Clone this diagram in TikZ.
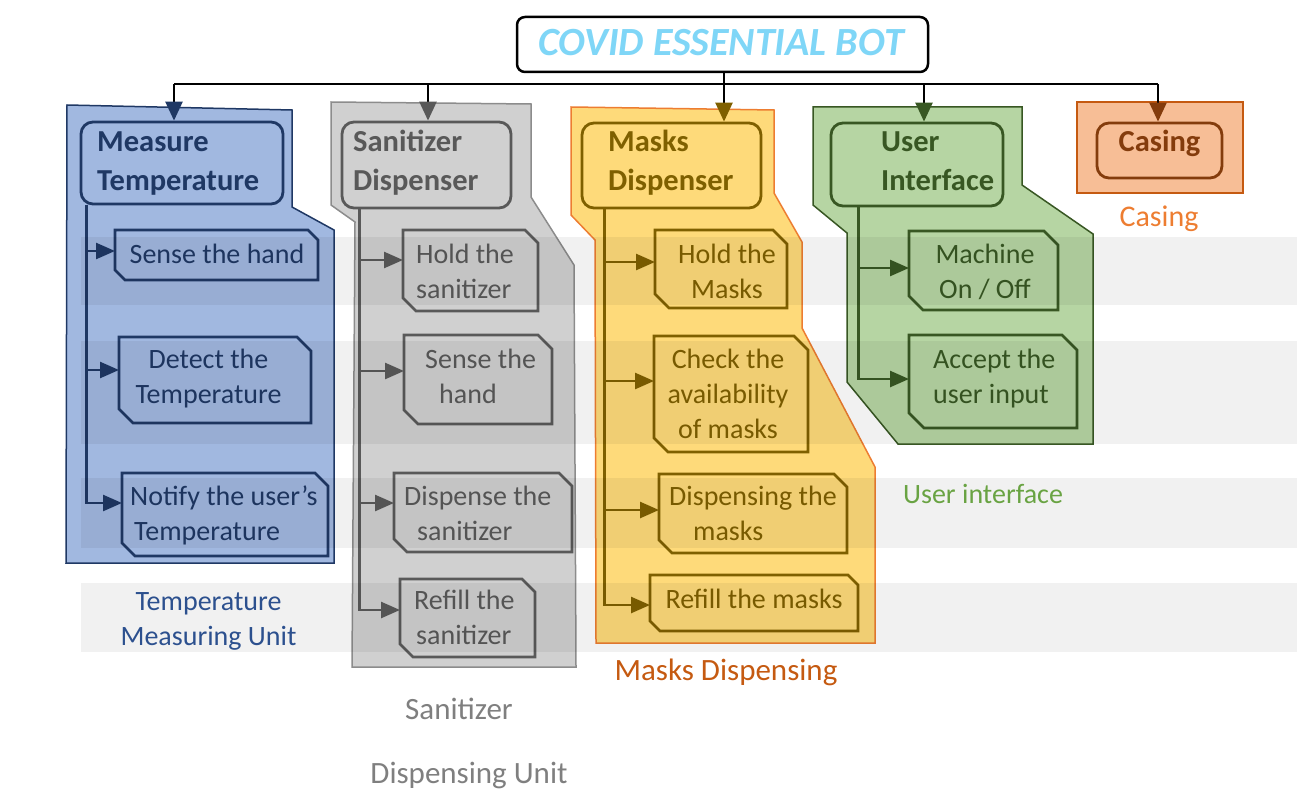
\documentclass[tikz,border=0pt]{standalone}
\usepackage{fontspec}
\setmainfont{Carlito}
\usetikzlibrary{arrows.meta,fit}

% palette
\definecolor{titleC}{RGB}{127,214,247}
\definecolor{blueF}{RGB}{161,184,224}
\definecolor{blueD}{RGB}{31,56,100}
\definecolor{blueL}{RGB}{47,85,151}
\definecolor{greyF}{RGB}{208,208,208}
\definecolor{greyE}{RGB}{140,140,140}
\definecolor{greyD}{RGB}{89,89,89}
\definecolor{greyL}{RGB}{127,127,127}
\definecolor{yelF}{RGB}{254,218,122}
\definecolor{yelE}{RGB}{237,125,49}
\definecolor{yelD}{RGB}{127,96,0}
\definecolor{yelL}{RGB}{197,90,17}
\definecolor{grnF}{RGB}{182,213,163}
\definecolor{grnD}{RGB}{56,87,35}
\definecolor{grnL}{RGB}{112,173,71}
\definecolor{casF}{RGB}{247,190,150}
\definecolor{casE}{RGB}{197,90,17}
\definecolor{casD}{RGB}{132,60,12}
\definecolor{casL}{RGB}{237,125,49}

% stacked lines whose base is the first line's baseline
\newcommand\linesof[2][l]{\begin{tabular}[t]{@{}#1@{}}#2\end{tabular}}

% outline of a box with the top-right and bottom-left corners cut off
\newcommand\cutbox[3]{%
  \draw[line width=2.8pt, draw=#2, line join=miter]
    (#1.north west) -- ([xshift=-#3pt]#1.north east) -- ([yshift=-#3pt]#1.north east)
    -- (#1.south east) -- ([xshift=#3pt]#1.south west) -- ([yshift=#3pt]#1.south west) -- cycle;}

\tikzset{
  grp/.style={line width=1.5pt, line join=miter},
  hdrbox/.style={draw, rounded corners=12pt, line width=2.8pt, inner sep=0pt},
  cell/.style={inner sep=0pt, outer sep=0pt},
  txt/.style={font=\fontsize{28}{35}\selectfont, inner sep=0pt},
  captxt/.style={font=\fontsize{31}{38}\selectfont, inner sep=0pt},
  hdrtxt/.style={font=\bfseries\fontsize{30.5}{38.5}\selectfont, inner sep=0pt},
  busline/.style={draw=black, line width=2.5pt},
  drop/.style={draw=black, line width=2.5pt, -{Triangle[length=19pt,width=17pt,color=#1]}},
  branch/.style={draw=#1, line width=2.5pt, -{Triangle[length=19pt,width=16pt,color=#1]}},
  band/.style={fill=black, fill opacity=0.055}
}

\begin{document}
\begin{tikzpicture}[x=1pt,y=-1pt]
\useasboundingbox (0,0) rectangle (1297,802);

% ---------- group panels ----------
\filldraw[grp, fill=blueF, draw=blueD]
  (67,105) -- (292,110) -- (292,207) -- (334,230) -- (334,563) -- (66,563) -- cycle;
\filldraw[grp, fill=greyF, draw=greyE]
  (331,102) -- (531,104) -- (531,197) -- (574,265) -- (576,667) -- (352,667) -- (355,222) -- (331,205) -- cycle;
\filldraw[grp, fill=yelF, draw=yelE]
  (571,107) -- (774,110) -- (774,193) -- (802,242) -- (802,328) -- (875,467) -- (875,643) -- (596,643) -- (595,240) -- (571,215) -- cycle;
\filldraw[grp, fill=grnF, draw=grnD]
  (813,107) -- (1022,107) -- (1022,185) -- (1093,234) -- (1093,444) -- (898,444) -- (847,382) -- (847,233) -- (813,205) -- cycle;
\filldraw[line width=2pt, fill=casF, draw=casE] (1077,102) rectangle (1243,193);

% ---------- title ----------
\node[draw=black, rounded corners=8pt, line width=2.5pt, inner sep=0pt, fit={(517,17) (928,72)}] (title) {};
\node[font=\bfseries\itshape\fontsize{40}{46}\selectfont, text=titleC, inner sep=0pt, anchor=base] (tt) at (721,56) {COVID ESSENTIAL BOT};

% ---------- header boxes ----------
\node[hdrbox, draw=blueD, fit={(81,122) (283,204)}] (h1) {};
\node[hdrbox, draw=greyD, fit={(342,122) (511,208)}] (h2) {};
\node[hdrbox, draw=yelD, fit={(582,123) (761,208)}] (h3) {};
\node[hdrbox, draw=grnD, fit={(831,123) (1003,206)}] (h4) {};
\node[hdrbox, draw=casD, fit={(1097,123) (1222,178)}] (h5) {};

\node[hdrtxt, text=blueD, anchor=base west] (th1) at (97,152) {\linesof{Measure\\Temperature}};
\node[hdrtxt, text=greyD, anchor=base west] (th2) at (353,152) {\linesof{Sanitizer\\Dispenser}};
\node[hdrtxt, text=yelD, anchor=base west] (th3) at (608,152) {\linesof{Masks\\Dispenser}};
\node[hdrtxt, text=grnD, anchor=base west] (th4) at (881,152) {\linesof{User\\Interface}};
\node[hdrtxt, text=casD, anchor=base] (th5) at (1159.5,152) {Casing};

% ---------- task boxes ----------
\node[cell, fit={(115,230) (318,280)}] (b11) {};
\node[cell, fit={(119,337) (311,423)}] (b12) {};
\node[cell, fit={(122,473) (328,556)}] (b13) {};
\node[cell, fit={(403,230) (538,311)}] (b21) {};
\node[cell, fit={(404,335) (552,424)}] (b22) {};
\node[cell, fit={(394,473) (572,552)}] (b23) {};
\node[cell, fit={(400,579) (535,657)}] (b24) {};
\node[cell, fit={(655,230) (787,308)}] (b31) {};
\node[cell, fit={(654,336) (808,452)}] (b32) {};
\node[cell, fit={(659,474) (847,553)}] (b33) {};
\node[cell, fit={(650,575) (858,631)}] (b34) {};
\node[cell, fit={(909,231) (1058,310)}] (b41) {};
\node[cell, fit={(909,335) (1077,428)}] (b42) {};

\cutbox{b11}{blueD}{10}
\cutbox{b12}{blueD}{14}
\cutbox{b13}{blueD}{13}
\cutbox{b21}{greyD}{13}
\cutbox{b22}{greyD}{14}
\cutbox{b23}{greyD}{13}
\cutbox{b24}{greyD}{13}
\cutbox{b31}{yelD}{14}
\cutbox{b32}{yelD}{14}
\cutbox{b33}{yelD}{13}
\cutbox{b34}{yelD}{10}
\cutbox{b41}{grnD}{14}
\cutbox{b42}{grnD}{15}

\node[txt, text=blueD, anchor=base] (t11) at (217,263) {Sense the hand};
\node[txt, text=blueD, anchor=base] (t12) at (208.5,368) {\linesof[c]{Detect the\\Temperature}};
\node[txt, text=blueD, anchor=base west] (t13) at (130,505) {\linesof{Notify the user’s\\\hspace{4pt}Temperature}};
\node[txt, text=greyD, anchor=base west] (t21) at (416,263) {\linesof{Hold the\\sanitizer}};
\node[txt, text=greyD, anchor=base west] (t22) at (425,368) {\linesof{Sense the\\\hspace{14pt}hand}};
\node[txt, text=greyD, anchor=base west] (t23) at (404,505) {\linesof{Dispense the\\\hspace{13pt}sanitizer}};
\node[txt, text=greyD, anchor=base west] (t24) at (414,609) {\linesof{Refill the\\\hspace{2pt}sanitizer}};
\node[txt, text=yelD, anchor=base] (t31) at (727,263) {\linesof[c]{Hold the\\Masks}};
\node[txt, text=yelD, anchor=base] (t32) at (728,368) {\linesof[c]{Check the\\availability\\of masks}};
\node[txt, text=yelD, anchor=base west] (t33) at (669,505) {\linesof{Dispensing the\\\hspace{24pt}masks}};
\node[txt, text=yelD, anchor=base] (t34) at (754,608) {Refill the masks};
\node[txt, text=grnD, anchor=base] (t41) at (985,263) {\linesof[c]{Machine\\On / Off}};
\node[txt, text=grnD, anchor=base west] (t42) at (933,368) {\linesof{Accept the\\user input}};

% ---------- group captions ----------
\node[txt, text=blueL, anchor=base] (c1) at (208.5,610) {\linesof[c]{Temperature\\Measuring Unit}};
\node[captxt, text=greyL, anchor=base] (c2a) at (459,719) {Sanitizer};
\node[captxt, text=greyL, anchor=base] (c2b) at (469,783) {Dispensing Unit};
\node[captxt, text=yelL, anchor=base] (c3) at (726,680) {Masks Dispensing};
\node[txt, text=grnL, anchor=base] (c4) at (983,503) {User interface};
\node[txt, font=\fontsize{30}{36}\selectfont, text=casL, anchor=base] (c5) at (1159,227) {Casing};

% ---------- top-level bus ----------
\coordinate (d1) at (174,84);
\coordinate (d2) at (428,84);
\coordinate (d3) at (724,84);
\coordinate (d4) at (924,84);
\coordinate (d5) at (1158,84);
\draw[busline] (d1) -- (d5);
\draw[busline] (d3 |- title.south) -- (d3);
\draw[drop=blueD] (d1) -- (d1 |- h1.north);
\draw[drop=greyD] (d2) -- (d2 |- h2.north);
\draw[drop=yelD] (d3) -- (d3 |- h3.north);
\draw[drop=grnD] (d4) -- (d4 |- h4.north);
\draw[drop=casD] (d5) -- (d5 |- h5.north);

% ---------- spines and branches ----------
\coordinate (s1) at ([xshift=7pt]h1.south west);
\coordinate (s2) at ([xshift=19pt]h2.south west);
\coordinate (s3) at ([xshift=24pt]h3.south west);
\coordinate (s4) at ([xshift=29pt]h4.south west);

\coordinate (e11) at ([yshift=4pt]b11.west);
\coordinate (e12) at ([yshift=10pt]b12.west);
\coordinate (e13) at ([yshift=11.5pt]b13.west);
\coordinate (e21) at ([yshift=10.5pt]b21.west);
\coordinate (e22) at ([yshift=8.5pt]b22.west);
\coordinate (e23) at ([yshift=9.5pt]b23.west);
\coordinate (e24) at ([yshift=8pt]b24.west);
\coordinate (e31) at ([yshift=7pt]b31.west);
\coordinate (e32) at ([yshift=13pt]b32.west);
\coordinate (e33) at ([yshift=3.5pt]b33.west);
\coordinate (e34) at ([yshift=-2pt]b34.west);
\coordinate (e41) at ([yshift=2.5pt]b41.west);
\coordinate (e42) at ([yshift=2.5pt]b42.west);

\draw[branch=blueD] (s1) |- (e13);
\draw[branch=blueD] (s1 |- e11) -- (e11);
\draw[branch=blueD] (s1 |- e12) -- (e12);

\draw[branch=greyD] (s2) |- (e24);
\draw[branch=greyD] (s2 |- e21) -- (e21);
\draw[branch=greyD] (s2 |- e22) -- (e22);
\draw[branch=greyD] (s2 |- e23) -- (e23);

\draw[branch=yelD] (s3) |- (e34);
\draw[branch=yelD] (s3 |- e31) -- (e31);
\draw[branch=yelD] (s3 |- e32) -- (e32);
\draw[branch=yelD] (s3 |- e33) -- (e33);

\draw[branch=grnD] (s4) |- (e42);
\draw[branch=grnD] (s4 |- e41) -- (e41);

% ---------- shaded row bands ----------
\fill[band] (81,237) rectangle (1297,305);
\fill[band] (81,341) rectangle (1297,444);
\fill[band] (81,478) rectangle (1297,548);
\fill[band] (81,583) rectangle (1297,652);
\end{tikzpicture}
\end{document}
